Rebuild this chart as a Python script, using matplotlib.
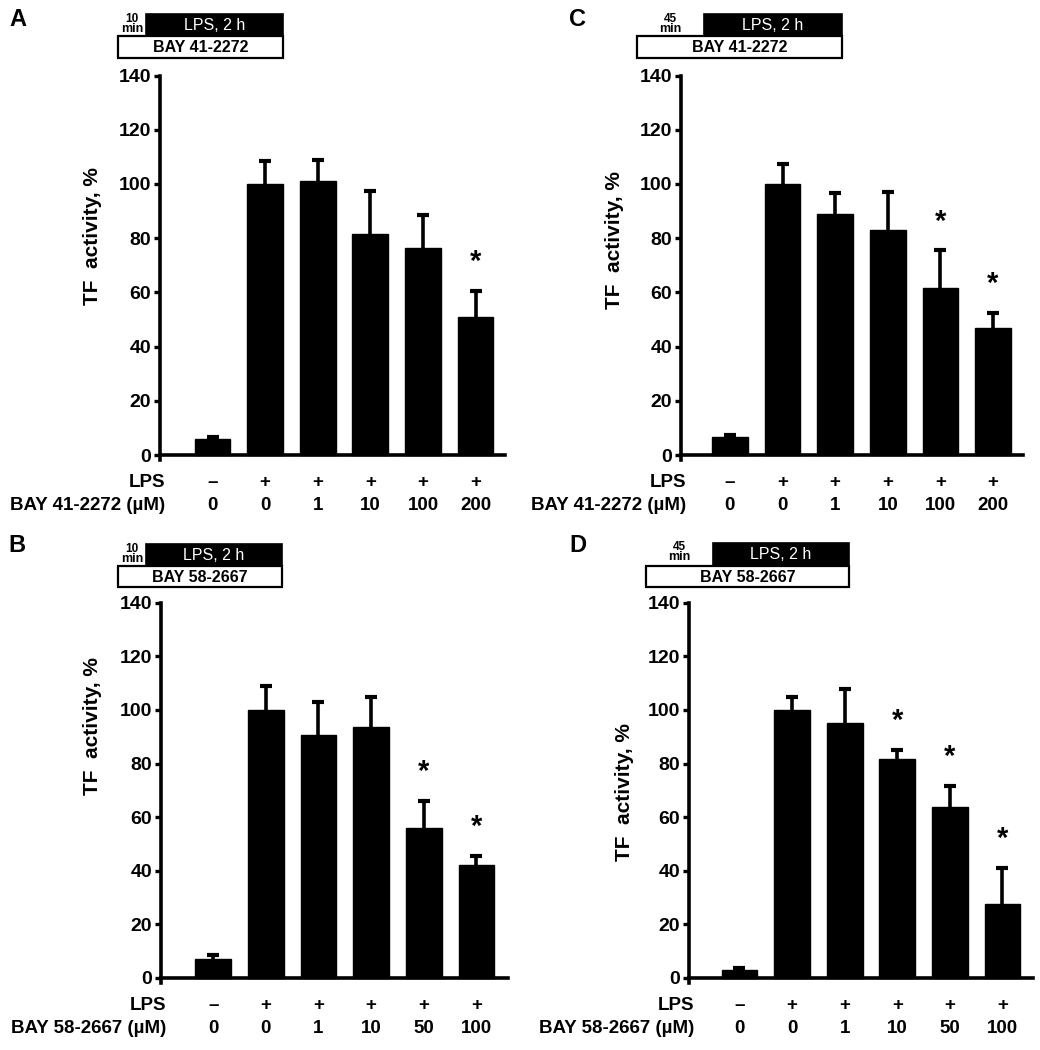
import matplotlib
matplotlib.use('Agg')
import matplotlib.pyplot as plt
from matplotlib.patches import Rectangle
import numpy as np

plt.rcParams['font.family'] = ['Liberation Sans', 'DejaVu Sans']
plt.rcParams['font.weight'] = 'bold'

# ---------------- data ----------------
lps_signs = ['–', '+', '+', '+', '+', '+']
conc_41 = ['0', '0', '1', '10', '100', '200']
conc_58 = ['0', '0', '1', '10', '50', '100']
yticks = [0, 20, 40, 60, 80, 100, 120, 140]

A_means = [6, 100, 101, 81.5, 76.5, 51]
A_err = [0.8, 8.5, 8, 16, 12, 9.5]
A_sig = [False, False, False, False, False, True]

B_means = [7, 100, 90.5, 93.5, 56, 42]
B_err = [1.5, 8.8, 12.5, 11.5, 10, 3.5]
B_sig = [False, False, False, False, True, True]

C_means = [6.5, 100, 89, 83, 61.5, 47]
C_err = [1, 7.5, 7.5, 14, 14, 5.5]
C_sig = [False, False, False, False, True, True]

D_means = [3, 100, 95, 81.7, 63.7, 27.5]
D_err = [0.6, 5, 13, 3.3, 8, 13.5]
D_sig = [False, False, False, True, True, True]

W, H = 1040, 1050
fig = plt.figure(figsize=(W / 100, H / 100), dpi=100)


def fx(px):
    return px / W


def fy(py):
    return 1 - py / H


def panel(letter, letter_xy, left, right, y0, scale, xlim, means, err, sig,
          compound, conc, label_xy, sched):
    bottom_px = y0 + 2 * scale
    top_px = y0 - 140 * scale
    ax = fig.add_axes([fx(left), fy(bottom_px), (right - left) / W,
                       (bottom_px - top_px) / H])
    x = np.arange(len(means))
    ax.bar(x, means, width=0.68, color='black', edgecolor='black', zorder=3)
    eb = ax.errorbar(x, means, yerr=[np.zeros(len(err)), err], fmt='none',
                     ecolor='black', elinewidth=2.6, capsize=4.5, capthick=3,
                     zorder=2)
    caps = eb[1]
    if len(caps) > 1:
        caps[0].set_visible(False)
    for i, s in enumerate(sig):
        if s:
            ax.annotate('*', xy=(x[i], means[i] + err[i]), xytext=(0, 15),
                        textcoords='offset points', ha='center',
                        va='baseline', fontsize=21, fontweight='bold')
    ax.set_xlim(*xlim)
    ax.set_ylim(-2, 140)
    for sp in ['top', 'right']:
        ax.spines[sp].set_visible(False)
    ax.spines['left'].set_linewidth(2.6)
    ax.spines['bottom'].set_linewidth(2.6)
    ax.spines['bottom'].set_position(('data', 0))
    ax.set_xticks([])
    ax.set_yticks(yticks)
    ax.tick_params(axis='y', direction='out', length=4.5, width=2.4,
                   labelsize=14, pad=2)
    for t in ax.get_yticklabels():
        t.set_fontweight('bold')
    # row labels under the bars
    xl = xlim[0] + 0.1
    ax.annotate('LPS', xy=(xl, 0), xytext=(0, -19.5),
                textcoords='offset points', ha='right', va='center',
                fontsize=13.5, fontweight='bold')
    ax.annotate(compound + ' (µM)', xy=(xl, 0), xytext=(0, -36.5),
                textcoords='offset points', ha='right', va='center',
                fontsize=13.5, fontweight='bold')
    for i in range(len(means)):
        ax.annotate(lps_signs[i], xy=(x[i], 0), xytext=(0, -19.5),
                    textcoords='offset points', ha='center', va='center',
                    fontsize=13.5, fontweight='bold')
        ax.annotate(conc[i], xy=(x[i], 0), xytext=(0, -36.5),
                    textcoords='offset points', ha='center', va='center',
                    fontsize=13.5, fontweight='bold')
    # y label
    fig.text(fx(label_xy[0]), fy(label_xy[1]), 'TF  activity, %',
             rotation=90, ha='center', va='center', fontsize=15,
             fontweight='bold')
    # panel letter
    fig.text(fx(letter_xy[0]), fy(letter_xy[1]), letter, ha='center',
             va='center', fontsize=17, fontweight='bold')
    # schedule boxes
    x0, xb, x1, yt, ym, yb, pre = sched
    fig.add_artist(Rectangle((fx(xb), fy(ym)), fx(x1) - fx(xb),
                             fy(yt) - fy(ym), transform=fig.transFigure,
                             facecolor='black', edgecolor='black', lw=1.2))
    fig.add_artist(Rectangle((fx(x0), fy(yb)), fx(x1) - fx(x0),
                             fy(ym + 1) - fy(yb), transform=fig.transFigure,
                             facecolor='white', edgecolor='black', lw=1.6))
    fig.text(fx((xb + x1) / 2), fy((yt + ym) / 2 + 0.5), 'LPS, 2 h',
             color='white', ha='center', va='center', fontsize=11.5,
             fontweight='normal')
    fig.text(fx((x0 + x1) / 2), fy((ym + yb) / 2 + 1), compound,
             ha='center', va='center', fontsize=11.5, fontweight='bold')
    fig.text(fx((x0 + xb) / 2), fy(yt + 4.5), pre, ha='center', va='center',
             fontsize=8.5, fontweight='bold')
    fig.text(fx((x0 + xb) / 2), fy(yt + 14.5), 'min', ha='center',
             va='center', fontsize=9, fontweight='bold')
    return ax


panel('A', (18, 20), 160, 505, 455, 2.71, (-1.0, 5.56), A_means, A_err,
      A_sig, 'BAY 41-2272', conc_41, (93, 236),
      (118, 146, 283, 14, 35, 58, '10'))
panel('B', (17, 545), 161, 508, 978, 2.68, (-0.99, 5.6), B_means, B_err,
      B_sig, 'BAY 58-2667', conc_58, (93, 726),
      (118, 146, 282, 544, 565, 587, '10'))
panel('C', (578, 20), 681, 1023, 455, 2.71, (-0.93, 5.57), C_means, C_err,
      C_sig, 'BAY 41-2272', conc_41, (614, 240),
      (637, 704, 842, 14, 35, 58, '45'))
panel('D', (578, 545), 689, 1033, 978, 2.68, (-0.96, 5.58), D_means, D_err,
      D_sig, 'BAY 58-2667', conc_58, (624, 792),
      (646, 713, 849, 543, 565, 587, '45'))

fig.savefig('out.png', dpi=100)
